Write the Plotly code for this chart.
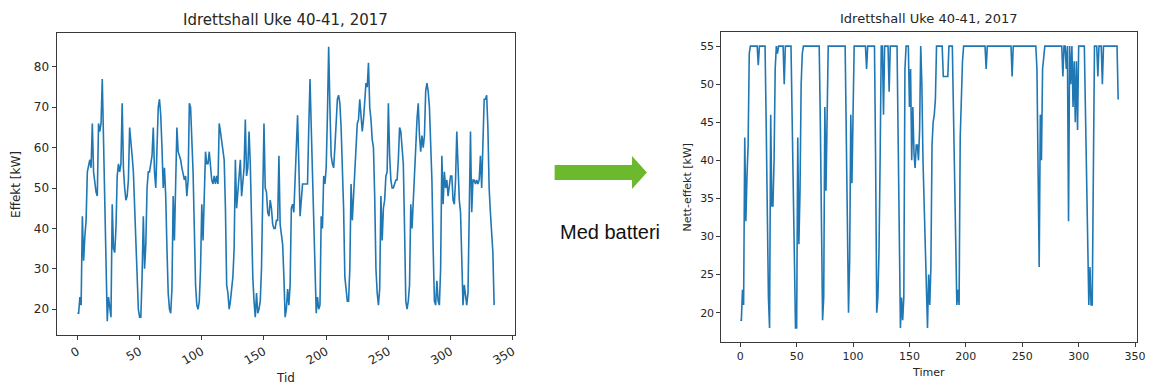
import plotly.graph_objects as go

# ---------------- data ----------------
left_hours = list(range(0, 336))
left_kw = [
    19, 19, 23, 21, 43, 32, 38, 42, 54, 56, 57, 55, 66, 54, 51, 49, 48, 66, 64, 66,
    77, 62, 45, 30, 17, 23, 21, 18, 46, 35, 34, 40, 53, 56, 54, 56, 71, 55, 50, 47,
    48, 52, 65, 62, 58, 54, 45, 38, 28, 20, 18, 18, 28, 43, 30, 36, 50, 54, 54, 56,
    58, 65, 54, 50, 60, 70, 72, 68, 60, 50, 55, 48, 35, 24, 20, 19, 25, 48, 37, 50,
    65, 59, 58, 57, 55, 53, 52, 53, 48, 52, 71, 70, 62, 54, 40, 26, 21, 20, 22, 30,
    46, 37, 48, 59, 56, 56, 59, 56, 52, 51, 53, 51, 53, 51, 66, 64, 62, 60, 57, 45,
    26, 24, 20, 22, 25, 28, 35, 57, 45, 50, 54, 57, 48, 52, 55, 67, 53, 55, 64, 56,
    40, 28, 22, 18, 24, 19, 20, 22, 30, 45, 66, 50, 49, 44, 43, 47, 45, 41, 40, 40,
    42, 42, 58, 41, 39, 36, 28, 18, 20, 25, 21, 26, 45, 46, 44, 51, 59, 68, 56, 43,
    47, 51, 51, 51, 51, 51, 65, 77, 65, 55, 45, 30, 19, 23, 20, 21, 43, 40, 53, 51,
    55, 68, 85, 70, 58, 56, 55, 60, 65, 72, 73, 71, 65, 55, 45, 28, 24, 22, 22, 30,
    51, 42, 48, 53, 60, 66, 67, 72, 68, 64, 67, 72, 76, 75, 81, 70, 67, 62, 60, 48,
    30, 24, 21, 25, 48, 37, 45, 47, 53, 54, 71, 58, 52, 50, 50, 51, 52, 52, 57, 65,
    64, 60, 56, 40, 22, 20, 22, 26, 46, 40, 48, 52, 60, 67, 71, 63, 59, 63, 60, 63,
    74, 76, 74, 70, 62, 52, 35, 22, 21, 27, 22, 21, 30, 58, 46, 54, 50, 52, 48, 50,
    53, 53, 47, 46, 52, 64, 52, 47, 44, 35, 21, 26, 24, 21, 24, 40, 64, 44, 52, 52,
    51, 52, 51, 52, 58, 50, 64, 72, 72, 73, 65, 50, 44, 40, 34, 21,
]

right_hours = [
    0, 1, 2, 3, 4, 5, 6, 7, 8, 9, 15, 16, 17, 22, 23, 24, 25, 26, 27, 28,
    29, 30, 31, 32, 33, 34, 38, 39, 40, 45, 46, 47, 48, 49, 50, 51, 52, 53, 54, 55,
    56, 70, 71, 72, 73, 74, 75, 76, 77, 78, 93, 94, 95, 96, 97, 98, 99, 100, 101, 111,
    112, 113, 119, 120, 121, 122, 123, 124, 125, 126, 127, 128, 131, 132, 133, 139, 140, 141, 142, 143,
    144, 145, 146, 147, 149, 150, 151, 152, 153, 154, 155, 156, 157, 158, 159, 160, 161, 162, 163, 164,
    165, 166, 167, 168, 169, 170, 171, 172, 173, 174, 179, 180, 184, 185, 188, 189, 190, 191, 192, 193,
    194, 195, 196, 197, 198, 217, 218, 219, 240, 241, 242, 262, 263, 264, 265, 266, 267, 268, 269, 270,
    285, 286, 287, 288, 289, 290, 291, 292, 293, 294, 295, 296, 297, 298, 299, 300, 305, 306, 307, 308,
    309, 310, 311, 312, 313, 314, 316, 317, 318, 320, 321, 322, 334, 335,
]
right_kw = [
    19, 19, 23, 21, 43, 32, 38, 42, 54, 55, 55, 52.5, 55, 55, 45, 30, 22, 18, 46, 34,
    34, 40, 52, 55, 54, 55, 55, 50, 55, 55, 45, 35, 25, 18, 18, 43, 29, 36, 50, 54,
    55, 55, 45, 28, 19, 22, 47, 36, 50, 55, 55, 45, 30, 20, 27, 46, 37, 50, 55, 55,
    52, 55, 55, 40, 20, 22, 28, 40, 55, 55, 46, 55, 55, 49, 55, 55, 40, 25, 18, 22,
    19, 22, 52, 55, 55, 47, 52, 40, 47, 41, 39, 42, 42, 40, 44, 55, 50, 40, 35, 28,
    22, 18, 25, 21, 26, 42, 45, 46, 48, 55, 55, 51, 51, 55, 55, 45, 35, 25, 21, 23,
    21, 43, 50, 53, 55, 55, 52, 55, 55, 51, 55, 55, 52, 40, 26, 46, 40, 52, 54, 55,
    55, 51, 55, 55, 52, 55, 32, 55, 50, 55, 47, 53, 45, 53, 44, 55, 55, 45, 35, 26,
    21, 26, 21, 21, 40, 55, 55, 51, 55, 55, 50, 55, 55, 48,
]

x_ticks = [0, 50, 100, 150, 200, 250, 300, 350]
left_y_ticks = [20, 30, 40, 50, 60, 70, 80]
right_y_ticks = [20, 25, 30, 35, 40, 45, 50, 55]

title_text = "Idrettshall Uke 40-41, 2017"

# ---------------- layout helpers ----------------
W, H = 1154, 385
def px(x):
    return x / W
def py(y):
    return 1 - y / H

LINE = "#1f77b4"
AX = "#3a3a3a"
TXT = "#262626"
FONT = "DejaVu Sans"

fig = go.Figure()
fig.add_trace(go.Scatter(x=left_hours, y=left_kw, mode="lines",
                         line=dict(color=LINE, width=1.6), xaxis="x", yaxis="y",
                         showlegend=False, hoverinfo="skip"))
fig.add_trace(go.Scatter(x=right_hours, y=right_kw, mode="lines",
                         line=dict(color=LINE, width=1.6), xaxis="x2", yaxis="y2",
                         showlegend=False, hoverinfo="skip"))

common = dict(showline=True, mirror=True, linecolor=AX, linewidth=1,
              ticks="outside", ticklen=4, tickcolor=AX, tickwidth=1,
              showgrid=False, zeroline=False)

fig.update_layout(
    width=W, height=H,
    margin=dict(l=0, r=0, t=0, b=0),
    paper_bgcolor="white", plot_bgcolor="white",
    font=dict(family=FONT, color=TXT),
    xaxis=dict(domain=[px(57), px(519)], range=[-16.75, 351.75], anchor="y",
               tickvals=x_ticks, tickangle=-30, tickfont=dict(size=12, family=FONT, color=TXT),
               **common),
    yaxis=dict(domain=[py(335), py(33)], range=[13.6, 88.4], anchor="x",
               tickvals=left_y_ticks, tickfont=dict(size=12, family=FONT, color=TXT), **common),
    xaxis2=dict(domain=[px(727), px(1146)], range=[-16.75, 351.75], anchor="y2",
                tickvals=x_ticks, tickfont=dict(size=11, family=FONT, color=TXT), **common),
    yaxis2=dict(domain=[py(342), py(32)], range=[16.15, 56.85], anchor="x2",
                tickvals=right_y_ticks, tickfont=dict(size=11, family=FONT, color=TXT), **common),
)

ann = [
    dict(text=title_text, x=px(288), y=py(20), size=15),
    dict(text=title_text, x=px(936), y=py(18), size=13),
    dict(text="Tid", x=px(288), y=py(378), size=12),
    dict(text="Timer", x=px(936), y=py(372), size=11),
]
for a in ann:
    fig.add_annotation(text=a["text"], x=a["x"], y=a["y"], xref="paper", yref="paper",
                       showarrow=False, xanchor="center", yanchor="middle",
                       font=dict(size=a["size"], family=FONT, color=TXT))
fig.add_annotation(text="Effekt [kW]", x=px(16), y=py(184), xref="paper", yref="paper",
                   showarrow=False, textangle=-90, xanchor="center", yanchor="middle",
                   font=dict(size=12, family=FONT, color=TXT))
fig.add_annotation(text="Nett-effekt [kW]", x=px(692), y=py(187), xref="paper", yref="paper",
                   showarrow=False, textangle=-90, xanchor="center", yanchor="middle",
                   font=dict(size=11, family=FONT, color=TXT))
fig.add_annotation(text="Med batteri", x=px(615), y=py(232), xref="paper", yref="paper",
                   showarrow=False, xanchor="center", yanchor="middle",
                   font=dict(size=20, family="Liberation Sans", color="#111111"))

# green arrow (decoration)
pts = [(559, 165), (637, 165), (637, 156), (652, 172.5), (637, 189), (637, 180), (559, 180)]
path = "M " + " L ".join(f"{px(x):.5f},{py(y):.5f}" for x, y in pts) + " Z"
fig.add_shape(type="path", path=path, xref="paper", yref="paper",
              fillcolor="#6DB92D", line=dict(width=0))

fig.write_html("out.html", config={"displayModeBar": False},
               post_script="document.body.style.margin='0px';document.body.style.overflow='hidden';")
